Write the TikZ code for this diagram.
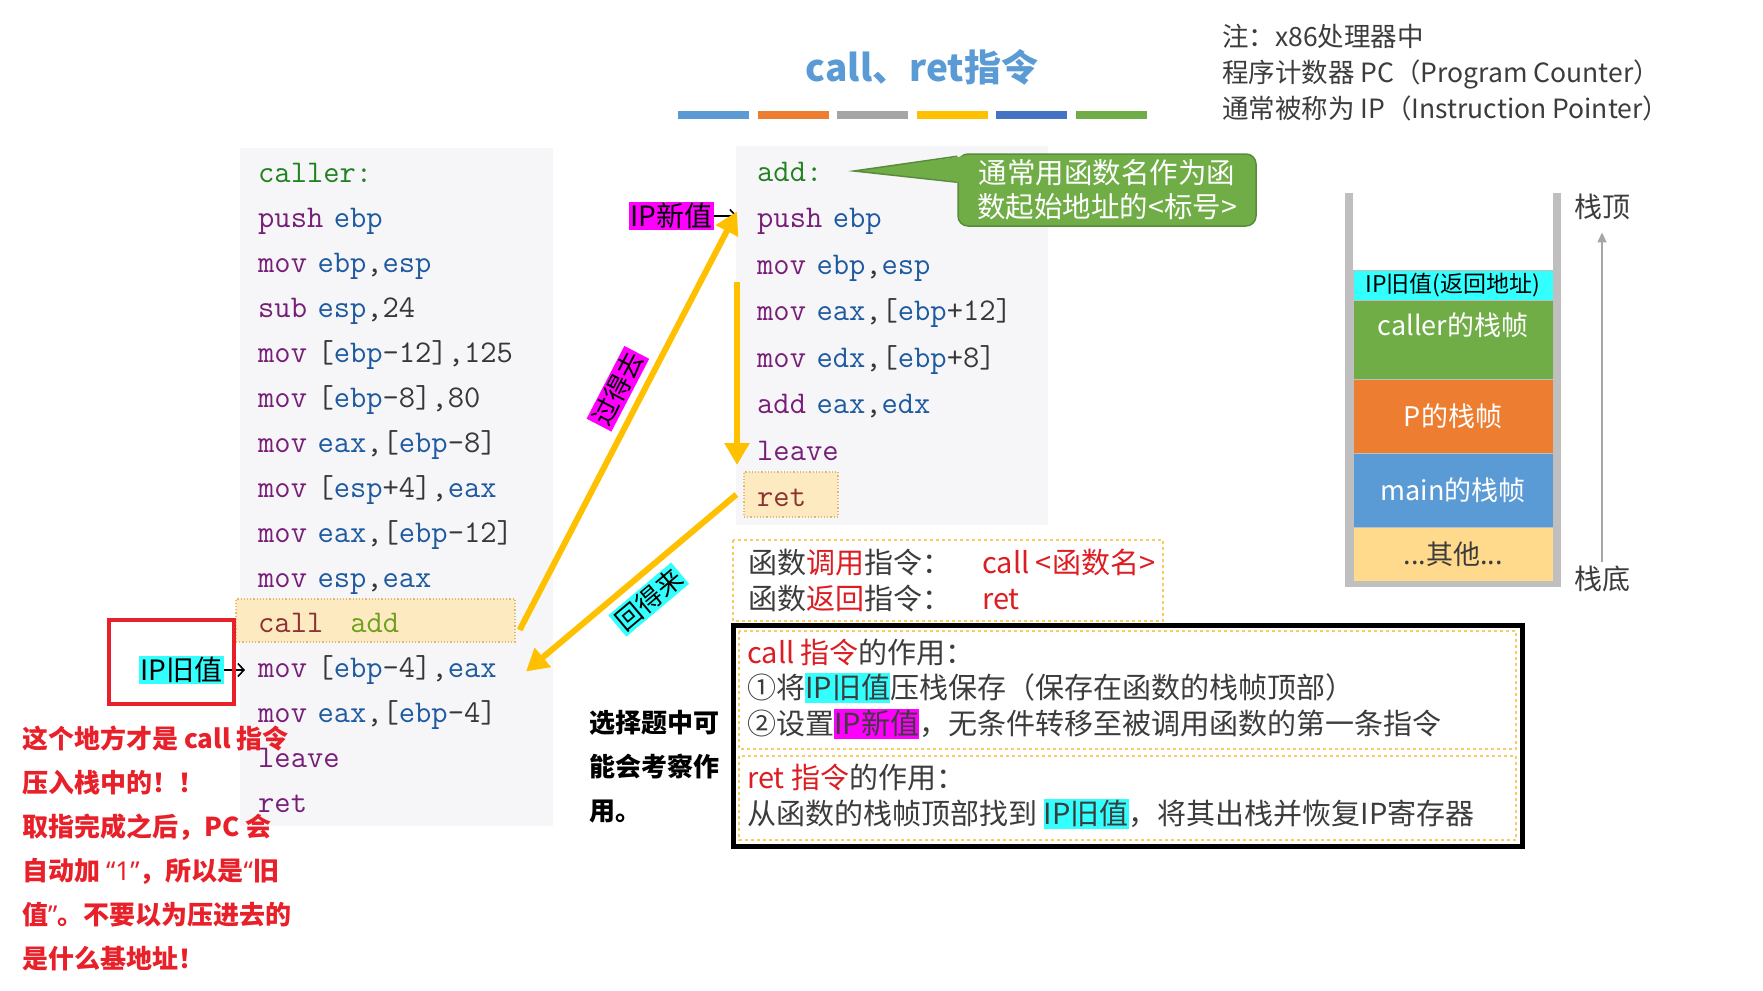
\documentclass[tikz,border=0pt]{standalone}
\usepackage{fontspec}
\setmainfont{Noto Sans CJK SC}
\newfontfamily\latinfont{Noto Sans}
\newcommand{\codefont}{\ttfamily\addfontfeatures{FakeBold=1}}
\usetikzlibrary{arrows.meta, positioning, calc}

\definecolor{titleblue}{RGB}{91,155,213}
\definecolor{barorange}{RGB}{237,125,49}
\definecolor{bargray}{RGB}{165,165,165}
\definecolor{baryellow}{RGB}{255,192,0}
\definecolor{bardblue}{RGB}{68,114,196}
\definecolor{bargreen}{RGB}{112,173,71}
\definecolor{panelgray}{RGB}{246,246,248}
\definecolor{lblc}{RGB}{34,130,34}
\definecolor{opc}{RGB}{120,30,120}
\definecolor{regc}{RGB}{30,90,160}
\definecolor{numc}{RGB}{55,55,55}
\definecolor{callc}{RGB}{140,50,50}
\definecolor{fnc}{RGB}{110,160,30}
\definecolor{hlfill}{RGB}{253,234,192}
\definecolor{hlline}{RGB}{225,185,110}
\definecolor{arrowyel}{RGB}{255,192,0}
\definecolor{ipcyan}{RGB}{51,255,255}
\definecolor{ipmag}{RGB}{255,0,255}
\definecolor{warnred}{RGB}{232,32,42}
\definecolor{txtred}{RGB}{220,30,35}
\definecolor{txtgray}{RGB}{60,60,60}
\definecolor{dashyel}{RGB}{245,205,100}
\definecolor{wallgray}{RGB}{191,191,191}
\definecolor{otherfill}{RGB}{255,217,140}
\definecolor{calloutline}{RGB}{88,140,58}

\newcommand{\fsz}[2]{\fontsize{#1}{#2}\selectfont}
\newcommand{\asmop}[1]{\textcolor{opc}{#1}}
\newcommand{\asmreg}[1]{\textcolor{regc}{#1}}
\newcommand{\hlcyan}[1]{{\setlength{\fboxsep}{0pt}\colorbox{ipcyan}{\rule[-5pt]{0pt}{30pt}#1}}}
\newcommand{\hlmag}[1]{{\setlength{\fboxsep}{0pt}\colorbox{ipmag}{\rule[-5pt]{0pt}{30pt}#1}}}
\newcommand{\latq}[1]{{\latinfont\bfseries #1}}

\begin{document}
\begin{tikzpicture}[x=1pt, y=1pt, node distance=18.6pt,
    codeline/.style={font=\codefont\fsz{31.6}{34}, text=numc, inner sep=0pt, text height=20pt, text depth=6pt, text width=268pt, align=left},
    hlbox/.style={draw=hlline, fill=hlfill, dotted, line width=1.2pt, inner sep=0pt},
    yarrow/.style={draw=arrowyel, line width=6pt, -{Triangle[length=22pt,width=24pt]}},
    pointer/.style={line width=1.6pt, -{Straight Barb[length=6pt,width=13pt]}},
    tagbox/.style={inner sep=1.5pt, font=\fsz{28}{30}},
    slanttag/.style={inner sep=2pt, font=\fsz{26}{28}, sloped},
    stackblk/.style={minimum width=200pt, inner sep=0pt, outer sep=0pt, draw=black!25, line width=1pt, text=white, font=\fsz{27}{30}},
    dashbox/.style={draw=dashyel, dashed, line width=1.5pt},
    bodytxt/.style={anchor=base west, inner sep=0pt, font=\fsz{29}{34}, text=txtgray}
    ]

    \useasboundingbox (0,0) rectangle (1763,-990);
    \fill[white] (0,0) rectangle (1763,-990);

    % title and colour bars
    \node (title) [font=\bfseries\fsz{37}{40}, text=titleblue] at (922,-67) {call、ret指令};
    \foreach \i/\c in {0/titleblue,1/barorange,2/bargray,3/baryellow,4/bardblue,5/bargreen}
        \fill[\c] ({678+\i*79.6},-111) rectangle ++(71,-8);

    \node (note) [anchor=north west, align=left, inner sep=0pt, font=\fsz{26.5}{36}, text=txtgray] at (1222,-24)
        {注：x86处理器中\\程序计数器 PC（Program Counter）\\通常被称为 IP（Instruction Pointer）};

    % code panels
    \fill[panelgray] (240,-148) rectangle (553,-826);
    \fill[panelgray] (736,-146) rectangle (1048,-525);
    \node (callbox) [hlbox, minimum width=279pt, minimum height=43pt] at (375.5,-620.5) {};
    \node (retbox) [hlbox, minimum width=94pt, minimum height=45pt] at (791,-494.5) {};

    \node (l0) [codeline, anchor=west] at (258,-175) {\textcolor{lblc}{caller:}};
    \node (l1) [codeline, below=of l0] {\asmop{push} \asmreg{ebp}};
    \node (l2) [codeline, below=of l1] {\asmop{mov} \asmreg{ebp},\asmreg{esp}};
    \node (l3) [codeline, below=of l2] {\asmop{sub} \asmreg{esp},24};
    \node (l4) [codeline, below=of l3] {\asmop{mov} [\asmreg{ebp}-12],125};
    \node (l5) [codeline, below=of l4] {\asmop{mov} [\asmreg{ebp}-8],80};
    \node (l6) [codeline, below=of l5] {\asmop{mov} \asmreg{eax},[\asmreg{ebp}-8]};
    \node (l7) [codeline, below=of l6] {\asmop{mov} [\asmreg{esp}+4],\asmreg{eax}};
    \node (l8) [codeline, below=of l7] {\asmop{mov} \asmreg{eax},[\asmreg{ebp}-12]};
    \node (l9) [codeline, below=of l8] {\asmop{mov} \asmreg{esp},\asmreg{eax}};
    \node (l10) [codeline, below=of l9] {\textcolor{callc}{call}\hspace{27pt}\textcolor{fnc}{add}};
    \node (l11) [codeline, below=of l10] {\asmop{mov} [\asmreg{ebp}-4],\asmreg{eax}};
    \node (l12) [codeline, below=of l11] {\asmop{mov} \asmreg{eax},[\asmreg{ebp}-4]};
    \node (l13) [codeline, below=of l12] {\asmop{leave}};
    \node (l14) [codeline, below=of l13] {\asmop{ret}};

    \node (a0) [codeline, anchor=west] at (757,-174) {\textcolor{lblc}{add:}};
    \node (a1) [codeline, below=20.1pt of a0] {\asmop{push} \asmreg{ebp}};
    \node (a2) [codeline, below=20.1pt of a1] {\asmop{mov} \asmreg{ebp},\asmreg{esp}};
    \node (a3) [codeline, below=20.1pt of a2] {\asmop{mov} \asmreg{eax},[\asmreg{ebp}+12]};
    \node (a4) [codeline, below=20.1pt of a3] {\asmop{mov} \asmreg{edx},[\asmreg{ebp}+8]};
    \node (a5) [codeline, below=20.1pt of a4] {\asmop{add} \asmreg{eax},\asmreg{edx}};
    \node (a6) [codeline, below=20.1pt of a5] {\asmop{leave}};
    \node (a7) [codeline, below=20.1pt of a6] {\textcolor{callc}{ret}};

    % callout
    \node (callout) [fill=bargreen, draw=calloutline, line width=1.5pt, rounded corners=10pt, minimum width=298pt, minimum height=72pt,
        align=center, text=white, font=\fsz{28.5}{34}] at (1107,-190) {通常用函数名作为函\\数起始地址的<标号>};
    \coordinate (calltip) at ($(a0.west)+(97,3)$);
    \fill[bargreen] (calltip) -- ($(callout.north west)+(6,-3)$) -- ($(callout.north west)+(6,-29)$) -- cycle;
    \draw[calloutline, line width=1.5pt] ($(callout.north west)+(0,-3)$) -- (calltip) -- ($(callout.north west)+(0,-29)$);

    % jumps
    \node (ipnew) [tagbox, fill=ipmag] at (671.5,-216) {IP新值};
    \draw[pointer, shorten >=20pt] (ipnew.east) -- (ipnew.east -| a1.west);
    \node (ipold) [tagbox, fill=ipcyan] at (181.5,-670) {IP旧值};
    \draw[pointer, shorten >=13pt] (ipold.east) -- (ipold.east -| l11.west);
    \draw[warnred, line width=4.5pt] (109,-620) rectangle (234,-704);

    \draw[yarrow] ($(callbox.east)+(4,-9.5)$) -- node[slanttag, fill=ipmag, pos=0.55, above=7pt] {过得去} ($(a1.west)+(-20,9)$);
    \draw[yarrow] ($(a2.west)+(-20,-15)$) -- ($(a6.west)+(-20,-12)$);
    \draw[yarrow] ($(retbox.west)+(-7,0)$) -- node[slanttag, fill=ipcyan, pos=0.49, below=7pt] {回得来} ($(l11.west)+(268,-1.5)$);

    % stack
    \fill[wallgray] (1345,-193) rectangle (1353,-587);
    \fill[wallgray] (1553,-193) rectangle (1561,-587);
    \fill[wallgray] (1345,-579) rectangle (1561,-587);
    \node (skip) [stackblk, fill=ipcyan, text=black, minimum height=30pt, font=\fsz{23}{24}] at (1453,-285) {IP旧值(返回地址)};
    \node (skcaller) [stackblk, fill=bargreen, minimum height=79pt, text height=20pt, text depth=28.4pt, below=0pt of skip] {caller的栈帧};
    \node (skp) [stackblk, fill=barorange, minimum height=74pt, below=0pt of skcaller] {P的栈帧};
    \node (skmain) [stackblk, fill=titleblue, minimum height=74pt, below=0pt of skp] {main的栈帧};
    \node (skother) [stackblk, fill=otherfill, text=txtgray, minimum height=54pt, below=0pt of skmain] {...其他...};

    \node (sktop) [font=\fsz{28}{30}, text=txtgray] at (1602,-207) {栈顶};
    \node (skbot) [font=\fsz{28}{30}, text=txtgray] at (1602,-579) {栈底};
    \draw[draw=black!35, line width=1.5pt, -{Triangle[length=10pt,width=9pt]}, shorten >=9pt] (skbot.north) -- (sktop.south);

    % instruction notes
    \draw[dashbox] (733,-540) rectangle (1163,-621);
    \node (callrow) [bodytxt] at (748,-573) {\makebox[234pt][l]{函数\textcolor{txtred}{调用}指令：}\textcolor{txtred}{call <函数名>}};
    \node (retrow) [bodytxt] at (748,-609) {\makebox[234pt][l]{函数\textcolor{txtred}{返回}指令：}\textcolor{txtred}{ret}};

    \draw[line width=5pt] (733,-625) rectangle (1522,-846);
    \draw[dashbox] (739,-631) rectangle (1516,-749);
    \draw[dashbox] (739,-756) rectangle (1516,-840);
    \node (callhead) [bodytxt] at (747,-663) {\textcolor{txtred}{call 指令}的作用：};
    \node (callstep1) [bodytxt] at (747,-698) {①将\hlcyan{IP旧值}压栈保存（保存在函数的栈帧顶部）};
    \node (callstep2) [bodytxt] at (747,-734) {②设置\hlmag{IP新值}，无条件转移至被调用函数的第一条指令};
    \node (rethead) [bodytxt] at (747,-788) {\textcolor{txtred}{ret 指令}的作用：};
    \node (retstep) [bodytxt] at (747,-824) {从函数的栈帧顶部找到 \hlcyan{IP旧值}，将其出栈并恢复IP寄存器};

    % remarks
    \node (exam) [anchor=north west, align=left, inner sep=0pt, font=\bfseries\fsz{26}{44}, text=black] at (589,-710)
        {选择题中可\\能会考察作\\用。};
    \node (warn) [anchor=north west, align=left, inner sep=0pt, font=\bfseries\fsz{26}{44}, text=warnred] at (22,-726)
        {这个地方才是 call 指令\\压入栈中的！！\\取指完成之后，PC 会\\自动加 \latq{“1”}，所以是\latq{“}旧\\值\latq{”}。不要以为压进去的\\是什么基地址！};

\end{tikzpicture}
\end{document}
